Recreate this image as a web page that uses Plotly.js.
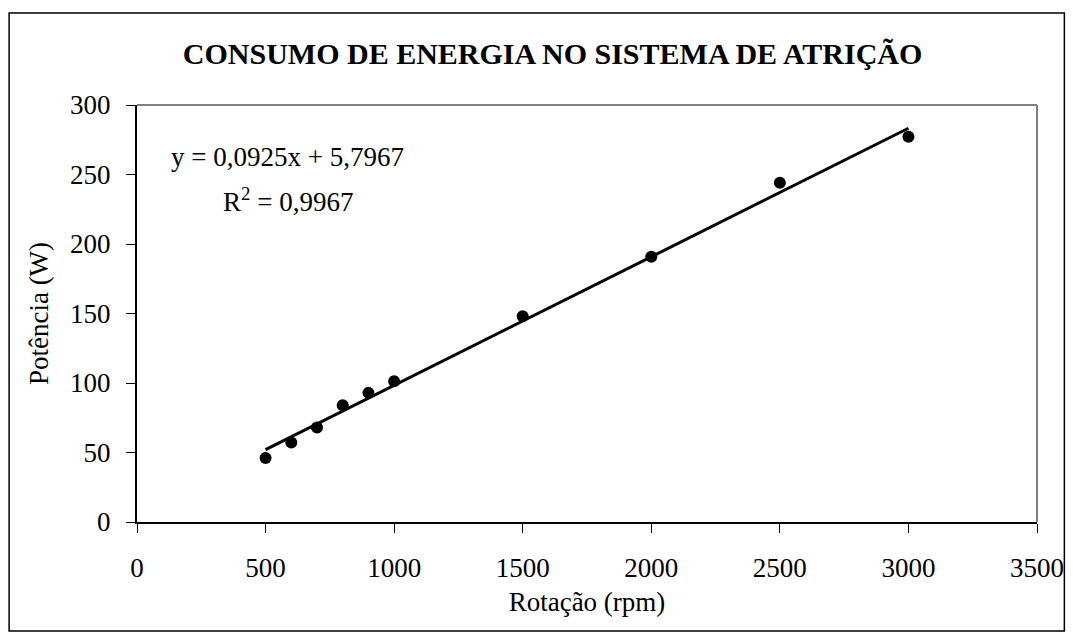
<!DOCTYPE html>
<html>
<head>
<meta charset="utf-8">
<script src="https://cdn.plot.ly/plotly-3.0.1.min.js"></script>
<style>html,body{margin:0;padding:0;background:#fff;}#chart{width:1073px;height:635px;}</style>
</head>
<body>
<div id="chart"></div>
<script>
// Data
const rotacao = [500, 600, 700, 800, 900, 1000, 1500, 2000, 2500, 3000];
const potencia = [46.1, 57.2, 68.0, 84.0, 92.9, 101.3, 148.1, 190.8, 244.1, 277.2];
const trendCoef = [0.0925, 5.7967]; // slope, intercept
const rSquared = [0.9967];
const xTicks = [0, 500, 1000, 1500, 2000, 2500, 3000, 3500];
const yTicks = [0, 50, 100, 150, 200, 250, 300];

const FONT = 'Liberation Serif, serif';
const fmt = v => String(v).replace('.', ',');

const xMin = Math.min(...rotacao), xMax = Math.max(...rotacao);
const trendX = [xMin, xMax];
const trendY = trendX.map(x => trendCoef[0] * x + trendCoef[1]);

const traces = [
  {x: rotacao, y: potencia, type: 'scatter', mode: 'markers',
   marker: {color: '#000', size: 12, symbol: 'circle'}, hoverinfo: 'x+y', cliponaxis: false},
  {x: trendX, y: trendY, type: 'scatter', mode: 'lines',
   line: {color: '#000', width: 3}, hoverinfo: 'skip'}
];

const layout = {
  width: 1073, height: 635,
  margin: {l: 137, r: 36, t: 105, b: 113},
  paper_bgcolor: '#fff', plot_bgcolor: '#fff',
  showlegend: false,
  font: {family: FONT, color: '#000', size: 27},
  title: {text: '<b>CONSUMO DE ENERGIA NO SISTEMA DE ATRIÇÃO</b>',
          font: {family: FONT, size: 30, color: '#000'},
          xref: 'container', x: 0.515, xanchor: 'center',
          yref: 'container', y: 0.915, yanchor: 'middle'},
  xaxis: {range: [0, 3500], tickvals: xTicks, ticktext: xTicks.map(String),
          showgrid: false, zeroline: false, showline: true, linecolor: '#000', linewidth: 2,
          ticks: 'outside', ticklen: 9, tickwidth: 1, tickcolor: '#000',
          ticklabelstandoff: 12,
          tickfont: {family: FONT, size: 27, color: '#000'},
          title: {text: 'Rotação (rpm)', font: {family: FONT, size: 27, color: '#000'}, standoff: 10}},
  yaxis: {range: [0, 300], tickvals: yTicks, ticktext: yTicks.map(String),
          showgrid: false, zeroline: false, showline: true, linecolor: '#000', linewidth: 2,
          ticks: 'outside', ticklen: 9, tickwidth: 1, tickcolor: '#000',
          ticklabelstandoff: 10,
          tickfont: {family: FONT, size: 27, color: '#000'},
          title: {text: 'Potência (W)', font: {family: FONT, size: 27, color: '#000'}, standoff: 14}},
  shapes: [
    {type: 'line', xref: 'paper', yref: 'paper', x0: 0, x1: 1, y0: 1, y1: 1,
     line: {color: '#808080', width: 2}},
    {type: 'line', xref: 'paper', yref: 'paper', x0: 1, x1: 1, y0: 0, y1: 1,
     line: {color: '#808080', width: 2}},
    {type: 'rect', xref: 'paper', yref: 'paper',
     x0: -0.1421, x1: 1.0304, y0: -0.2615, y1: 1.2209,
     line: {color: '#000', width: 1.5}, fillcolor: 'rgba(0,0,0,0)', layer: 'below'}
  ],
  annotations: [
    {xref: 'x', yref: 'y', x: 587, y: 262.6, xanchor: 'center', yanchor: 'middle',
     text: 'y = ' + fmt(trendCoef[0]) + 'x + ' + fmt(trendCoef[1]), showarrow: false,
     font: {family: FONT, size: 27, color: '#000'}},
    {xref: 'x', yref: 'y', x: 587, y: 231.6, xanchor: 'center', yanchor: 'middle',
     text: 'R<sup>2</sup> = ' + fmt(rSquared[0]), showarrow: false,
     font: {family: FONT, size: 27, color: '#000'}}
  ]
};

Plotly.newPlot('chart', traces, layout, {staticPlot: true, displayModeBar: false});
</script>
</body>
</html>
